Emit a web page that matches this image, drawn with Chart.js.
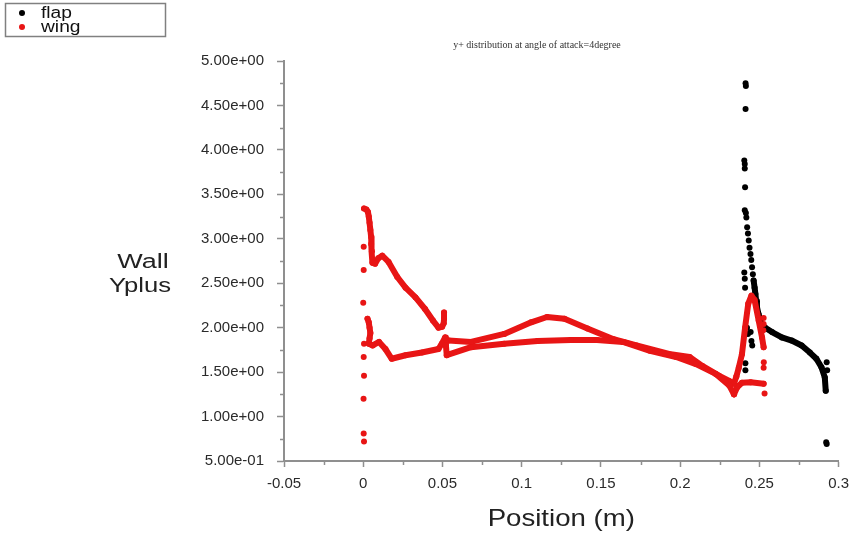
<!DOCTYPE html>
<html><head><meta charset="utf-8">
<script src="https://cdn.jsdelivr.net/npm/chart.js@4.4.0/dist/chart.umd.min.js"></script>
<style>html,body{margin:0;padding:0;background:#fff}#wrap{width:857px;height:533px;position:relative}</style>
</head><body><div id="wrap"><canvas id="c" width="857" height="533"></canvas></div>
<script>
const chartTitle = 'y+ distribution at angle of attack=4degree';
const xAxisTitle = 'Position (m)';
const yAxisTitle = ['Wall', 'Yplus'];
const seriesNames = ['flap', 'wing'];
const seriesColors = ['#000000', '#e81515'];

const xTickValues = [-0.05, 0, 0.05, 0.1, 0.15, 0.2, 0.25, 0.3];
const xTickLabels = ['-0.05', '0', '0.05', '0.1', '0.15', '0.2', '0.25', '0.3'];
const yTickValues = [0.5, 1, 1.5, 2, 2.5, 3, 3.5, 4, 4.5, 5];
const yTickLabels = ['5.00e-01', '1.00e+00', '1.50e+00', '2.00e+00', '2.50e+00', '3.00e+00', '3.50e+00', '4.00e+00', '4.50e+00', '5.00e+00'];

// flap: dense trail and scattered points
const flapTrailX = [0.2464, 0.247, 0.2475, 0.248, 0.2485, 0.2495, 0.2506, 0.252, 0.2537, 0.258, 0.2642, 0.2704, 0.2767, 0.2819, 0.286, 0.2892, 0.2913, 0.2919];
const flapTrailY = [2.53, 2.45, 2.38, 2.30, 2.23, 2.15, 2.08, 2.03, 2.00, 1.95, 1.89, 1.855, 1.80, 1.72, 1.65, 1.555, 1.44, 1.29];
const flapDotsX = [0.2413, 0.2415, 0.2413, 0.2405, 0.2408, 0.2408, 0.241, 0.2408, 0.2415, 0.2418, 0.2423, 0.2428, 0.2433, 0.2438, 0.2444, 0.2449, 0.2454, 0.2459, 0.2405, 0.2408, 0.241, 0.2422, 0.2428, 0.2445, 0.245, 0.2455, 0.2412, 0.2412, 0.2925, 0.2928, 0.2922, 0.2925];
const flapDotsY = [4.75, 4.72, 4.46, 3.88, 3.84, 3.79, 3.58, 3.32, 3.29, 3.24, 3.13, 3.06, 2.98, 2.90, 2.83, 2.76, 2.68, 2.60, 2.62, 2.55, 2.45, 2.00, 1.93, 1.95, 1.85, 1.80, 1.60, 1.52, 1.61, 1.52, 0.71, 0.69];

// wing: upper-left branch near the leading edge
const wingUpperX = [0.0005, 0.002, 0.003, 0.0035, 0.004, 0.0045, 0.005, 0.005, 0.0055, 0.0058, 0.0075, 0.0095, 0.012, 0.016, 0.0215, 0.0267, 0.033, 0.039, 0.044, 0.0475, 0.0498, 0.0508, 0.051, 0.051];
const wingUpperY = [3.34, 3.33, 3.30, 3.25, 3.18, 3.10, 3.02, 2.94, 2.86, 2.73, 2.72, 2.78, 2.81, 2.74, 2.57, 2.45, 2.34, 2.21, 2.08, 2.00, 2.01, 2.05, 2.10, 2.17];
// wing: lower-left branch continuing into the long lower line
const wingLowerX = [0.0027, 0.0035, 0.004, 0.0045, 0.004, 0.0035, 0.006, 0.010, 0.014, 0.018, 0.0267, 0.037, 0.0475, 0.0496, 0.0517, 0.0522, 0.0527, 0.068, 0.089, 0.110, 0.131, 0.1475, 0.164, 0.181, 0.1975, 0.21, 0.2225, 0.231, 0.234];
const wingLowerY = [2.10, 2.06, 2.00, 1.94, 1.88, 1.82, 1.80, 1.84, 1.76, 1.65, 1.69, 1.72, 1.76, 1.82, 1.89, 1.80, 1.69, 1.78, 1.82, 1.85, 1.86, 1.86, 1.84, 1.74, 1.67, 1.59, 1.48, 1.35, 1.25];
// wing: hump branch and the spike near the flap
const wingHumpX = [0.054, 0.068, 0.089, 0.106, 0.116, 0.127, 0.1415, 0.158, 0.1725, 0.193, 0.206, 0.214, 0.2245, 0.231, 0.234, 0.2355, 0.237, 0.239, 0.241, 0.243, 0.245, 0.247, 0.2496, 0.2517, 0.2527];
const wingHumpY = [1.855, 1.84, 1.93, 2.06, 2.12, 2.10, 1.99, 1.87, 1.80, 1.705, 1.67, 1.57, 1.46, 1.40, 1.37, 1.45, 1.55, 1.70, 2.00, 2.27, 2.36, 2.31, 2.08, 1.89, 1.78];
// wing: closing segment under the spike
const wingCloseX = [0.234, 0.236, 0.239, 0.2445, 0.2527];
const wingCloseY = [1.25, 1.33, 1.38, 1.385, 1.37];
// wing: scattered points
const wingDotsX = [0.0003, 0.0003, 0.0, 0.0005, 0.0003, 0.0005, 0.0002, 0.0003, 0.0005, 0.2527, 0.2527, 0.2525, 0.2528, 0.2527, 0.2533];
const wingDotsY = [2.91, 2.65, 2.28, 1.82, 1.67, 1.46, 1.20, 0.81, 0.72, 2.11, 2.04, 1.97, 1.61, 1.55, 1.26];

const zip = (xs, ys) => xs.map((x, i) => ({ x: x, y: ys[i] }));
const AXIS_GRAY = '#8f8f8f';

function lineSet(label, xs, ys, color, order) {
  return { label, data: zip(xs, ys), showLine: true, borderColor: color, backgroundColor: color,
    borderWidth: 6, pointRadius: 3, pointBorderWidth: 0, order, tension: 0, borderJoinStyle: 'round', borderCapStyle: 'round' };
}
function dotSet(label, xs, ys, color, order) {
  return { label, data: zip(xs, ys), showLine: false, borderColor: color, backgroundColor: color,
    pointRadius: 3, pointBorderWidth: 0, order };
}

function drawText(ctx, text, x, y, font, sx, align, color) {
  ctx.save();
  ctx.font = font; ctx.fillStyle = color || '#222';
  ctx.textAlign = align; ctx.textBaseline = 'alphabetic';
  ctx.translate(x, y); ctx.scale(sx, 1);
  ctx.fillText(text, 0, 0);
  ctx.restore();
}

const decorations = {
  id: 'decorations',
  afterDraw(chart) {
    const ctx = chart.ctx;
    const xs = chart.scales.x, ys = chart.scales.y;
    const ca = chart.chartArea;
    // minor ticks
    ctx.save();
    ctx.strokeStyle = AXIS_GRAY; ctx.lineWidth = 1.5;
    for (let i = 0; i < xTickValues.length - 1; i++) {
      const px = Math.round(xs.getPixelForValue((xTickValues[i] + xTickValues[i + 1]) / 2)) + 0.5;
      ctx.beginPath(); ctx.moveTo(px, ca.bottom); ctx.lineTo(px, ca.bottom + 4); ctx.stroke();
    }
    for (let i = 0; i < yTickValues.length - 1; i++) {
      const py = Math.round(ys.getPixelForValue((yTickValues[i] + yTickValues[i + 1]) / 2)) + 0.5;
      ctx.beginPath(); ctx.moveTo(ca.left, py); ctx.lineTo(ca.left - 4, py); ctx.stroke();
    }
    ctx.restore();
    // chart title
    drawText(ctx, chartTitle, 537, 48, '10px "Liberation Serif"', 1.0, 'center', '#333');
    // axis titles
    drawText(ctx, yAxisTitle[0], 143, 268, '20px "Liberation Sans"', 1.35, 'center', '#222');
    drawText(ctx, yAxisTitle[1], 140, 292, '20px "Liberation Sans"', 1.28, 'center', '#222');
    drawText(ctx, xAxisTitle, (ca.left + ca.right) / 2, 526, '24px "Liberation Sans"', 1.15, 'center', '#222');
    // legend
    ctx.save();
    ctx.strokeStyle = '#808080'; ctx.lineWidth = 1.5;
    ctx.strokeRect(5.5, 3.5, 160, 33);
    const rowsY = [13, 27];
    seriesNames.forEach((n, i) => {
      ctx.fillStyle = seriesColors[i];
      ctx.beginPath(); ctx.arc(22, rowsY[i], 3, 0, Math.PI * 2); ctx.fill();
      drawText(ctx, n, 41, rowsY[i] + 5, '16px "Liberation Sans"', 1.2, 'left', '#111');
    });
    ctx.restore();
  }
};

const chart = new Chart(document.getElementById('c'), {
  type: 'scatter',
  data: {
    datasets: [
      lineSet(seriesNames[1], wingUpperX, wingUpperY, seriesColors[1], 1),
      lineSet(seriesNames[1], wingLowerX, wingLowerY, seriesColors[1], 1),
      lineSet(seriesNames[1], wingHumpX, wingHumpY, seriesColors[1], 1),
      lineSet(seriesNames[1], wingCloseX, wingCloseY, seriesColors[1], 1),
      dotSet(seriesNames[1], wingDotsX, wingDotsY, seriesColors[1], 1),
      lineSet(seriesNames[0], flapTrailX, flapTrailY, seriesColors[0], 2),
      dotSet(seriesNames[0], flapDotsX, flapDotsY, seriesColors[0], 2)
    ]
  },
  options: {
    responsive: false,
    animation: false,
    layout: { padding: { top: 61, right: 13, left: 0, bottom: 0 } },
    plugins: { legend: { display: false }, tooltip: { enabled: false }, title: { display: false } },
    scales: {
      x: {
        type: 'linear', min: -0.05, max: 0.3,
        afterBuildTicks: s => { s.ticks = xTickValues.map(v => ({ value: v })); },
        afterFit: s => { s.height = 72; },
        ticks: {
          callback: (v, i) => xTickLabels[i],
          color: '#2a2a2a', font: { family: 'Liberation Sans', size: 15 }, padding: 8, maxRotation: 0, autoSkip: false
        },
        grid: { drawOnChartArea: false, drawTicks: true, tickLength: 6, tickColor: AXIS_GRAY, tickWidth: 1.5 },
        border: { display: true, color: AXIS_GRAY, width: 2 }
      },
      y: {
        type: 'linear', min: 0.5, max: 5,
        afterBuildTicks: s => { s.ticks = yTickValues.map(v => ({ value: v })); },
        afterFit: s => { s.width = 284; },
        ticks: {
          callback: (v, i) => yTickLabels[i],
          color: '#2a2a2a', font: { family: 'Liberation Sans', size: 15 }, padding: 13, autoSkip: false
        },
        grid: { drawOnChartArea: false, drawTicks: true, tickLength: 7, tickColor: AXIS_GRAY, tickWidth: 1.5 },
        border: { display: true, color: AXIS_GRAY, width: 2 }
      }
    }
  },
  plugins: [decorations]
});
</script>
</body></html>
